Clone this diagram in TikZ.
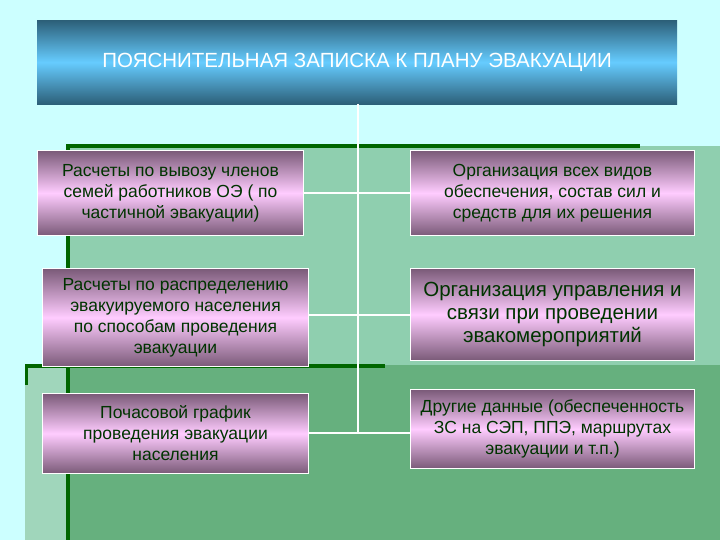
\documentclass[tikz,border=0pt]{standalone}
\usepackage{fontspec}
\setmainfont{Liberation Sans}
\begin{document}
\begin{tikzpicture}[x=1pt,y=-1pt,
  box/.style={draw=white,line width=1pt,top color=boxdark,bottom color=boxdark,middle color=boxlight,
    text=textgreen,align=center,font=\fontsize{17.5}{21}\selectfont,inner sep=0pt,anchor=north west},
  conn/.style={draw=white,line width=1.8pt}]
\definecolor{bgcyan}{HTML}{CCFFFF}
\definecolor{panelA}{HTML}{8FCFAF}
\definecolor{panelB}{HTML}{66B07E}
\definecolor{darkg}{HTML}{006600}
\definecolor{boxdark}{HTML}{7A5A78}
\definecolor{boxlight}{HTML}{FFCCFF}
\definecolor{textgreen}{HTML}{003300}
\definecolor{titledark}{HTML}{2C5F78}
\definecolor{titlelight}{HTML}{66CCFF}
\useasboundingbox (0,0) rectangle (720,540);
\fill[bgcyan] (0,0) rectangle (720,540);
\fill[panelA] (67,146) rectangle (720,540);
\fill[panelA!85!white] (25,365) rectangle (67,540);
\fill[panelB] (67,365) rectangle (720,540);
\fill[darkg] (67,144) rectangle (640,148);
\fill[darkg] (66,144) rectangle (70,540);
\fill[darkg] (25,364) rectangle (385,368);
\fill[darkg] (25,364) rectangle (28,385);
\node[draw=none,top color=titledark,bottom color=titledark,middle color=titlelight,anchor=north west,
  minimum width=640,minimum height=84,inner sep=0pt,text=white,font=\fontsize{20.5}{24}\selectfont]
  (t) at (37,20) {ПОЯСНИТЕЛЬНАЯ ЗАПИСКА К ПЛАНУ ЭВАКУАЦИИ};
\node[box,minimum width=266,minimum height=85] (l1) at (37,150) {Расчеты по вывозу членов\\семей работников ОЭ ( по\\частичной эвакуации)};
\node[box,minimum width=284,minimum height=85] (r1) at (410,150) {Организация всех видов\\обеспечения, состав сил и\\средств для их решения};
\node[box,minimum width=266,minimum height=98] (l2) at (42,268) {Расчеты по распределению\\эвакуируемого населения\\по способам проведения\\эвакуации};
\node[box,minimum width=284,minimum height=92,font=\fontsize{20.5}{23}\selectfont] (r2) at (410,268) {Организация управления и\\связи при проведении\\эвакомероприятий};
\node[box,minimum width=266,minimum height=80] (l3) at (42,393) {Почасовой график\\проведения эвакуации\\населения};
\node[box,minimum width=284,minimum height=79,font=\fontsize{17.5}{21}\selectfont] (r3) at (410,389) {Другие данные (обеспеченность\\ЗС на СЭП, ППЭ, маршрутах\\эвакуации и т.п.)};
\coordinate (top) at (358,104);
\coordinate (bot) at (358,433);
\draw[conn] (top) -- (bot);
\draw[conn] (l1.east) -- (r1.west);
\draw[conn] (l2.east |- 0,315) -- (r2.west |- 0,315);
\draw[conn] (l3.east |- bot) -- (r3.west |- bot);
\end{tikzpicture}
\end{document}
